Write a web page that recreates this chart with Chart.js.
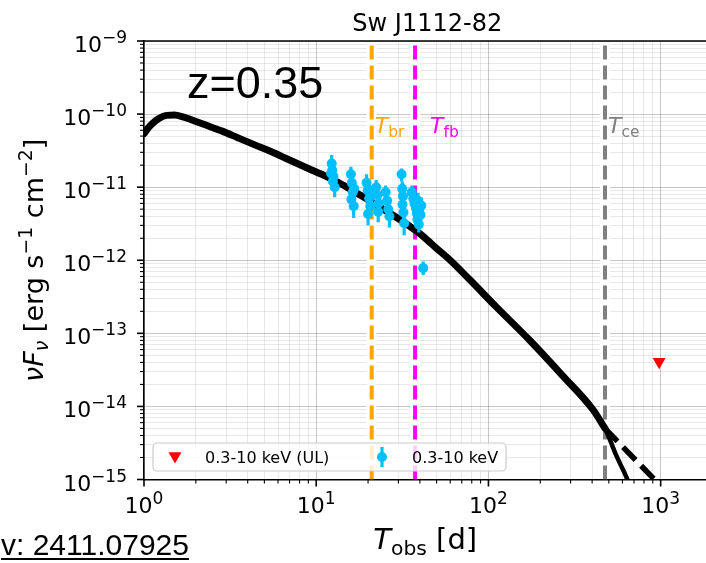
<!DOCTYPE html>
<html>
<head>
<meta charset="utf-8">
<script src="https://cdn.jsdelivr.net/npm/chart.js@4.4.1/dist/chart.umd.min.js"></script>
<style>
  html, body { margin: 0; padding: 0; background: #fff; overflow: hidden; }
  #wrap { position: relative; width: 720px; height: 563px; }
</style>
</head>
<body>
<div id="wrap"><canvas id="sed" width="720" height="563"></canvas></div>
<script>
// model light curve (thick part up to T_ce, then the cut-off tail and the power-law extension)
const modelT    = [1.0, 1.06, 1.13, 1.22, 1.35, 1.5, 1.7, 1.85, 2.2, 2.87, 3.5, 4.5, 5.5, 7.0, 9.0, 11.5, 14.3, 18, 22.4, 29, 35, 42, 50, 60, 78, 111, 173, 271, 405, 475];
const modelFlux = [5.4e-11, 6.5e-11, 7.6e-11, 8.7e-11, 9.6e-11, 9.7e-11, 9.1e-11, 8.5e-11, 7.3e-11, 5.8e-11, 4.75e-11, 3.7e-11, 3.05e-11, 2.35e-11, 1.8e-11, 1.39e-11, 1.07e-11, 7.8e-12, 5.7e-12, 3.9e-12, 2.9e-12, 2.1e-12, 1.45e-12, 1.0e-12, 5.4e-13, 2.3e-13, 8.1e-14, 2.6e-14, 9.0e-15, 5.0e-15];
const tailT     = [475, 510, 545, 585, 625, 665];
const tailFlux  = [5.0e-15, 3.4e-15, 2.3e-15, 1.6e-15, 1.15e-15, 8.2e-16];
const dashT     = [475, 920];
const dashFlux  = [5.0e-15, 1.0e-15];

// XRT 0.3-10 keV detections
const obsT    = [12.2, 12.3, 12.4, 12.5, 12.6, 12.8, 15.9, 16.0, 16.1, 16.3, 16.5, 16.6, 19.6, 19.9, 20.0, 20.3, 20.6, 20.9, 22.3, 22.7, 22.9, 23.0, 25.3, 25.8, 26.2, 26.6, 31.3, 31.6, 31.7, 31.9, 32.1, 32.4, 35.9, 36.6, 37.2, 37.9, 38.4, 38.7, 39.0, 39.4, 39.6, 40.3, 40.8, 41.8];
const obsFlux = [1.55e-11, 2.1e-11, 1.7e-11, 1.2e-11, 1.4e-11, 1.0e-11, 1.5e-11, 6.8e-12, 1.15e-11, 8.5e-12, 5.5e-12, 9.5e-12, 1.15e-11, 9e-12, 4.3e-12, 7e-12, 5.5e-12, 8e-12, 1.0e-11, 7.8e-12, 4.6e-12, 6.0e-12, 8.5e-12, 6.5e-12, 5.0e-12, 4.0e-12, 1.5e-11, 9.5e-12, 5.8e-12, 7.5e-12, 4.5e-12, 3.2e-12, 8.5e-12, 7.0e-12, 6.0e-12, 5.2e-12, 4.4e-12, 3.6e-12, 6.5e-12, 3.1e-12, 5.0e-12, 4.2e-12, 5.6e-12, 7.8e-13];
const obsLo   = [1.2e-11, 1.7e-11, 1.35e-11, 9e-12, 1.1e-11, 7.3e-12, 1.2e-11, 5e-12, 8.8e-12, 6.5e-12, 3.8e-12, 7e-12, 9e-12, 7e-12, 3.0e-12, 5.2e-12, 4e-12, 6e-12, 7.8e-12, 6e-12, 3.3e-12, 4.6e-12, 6.6e-12, 5e-12, 3.8e-12, 2.8e-12, 1.2e-11, 7.3e-12, 4.3e-12, 5.7e-12, 3.3e-12, 2.2e-12, 6.6e-12, 5.4e-12, 4.6e-12, 4e-12, 3.3e-12, 2.7e-12, 5e-12, 2.4e-12, 3.8e-12, 3.2e-12, 4.3e-12, 6.3e-13];
const obsHi   = [2e-11, 2.75e-11, 2.2e-11, 1.55e-11, 1.8e-11, 1.3e-11, 1.9e-11, 9e-12, 1.5e-11, 1.1e-11, 7.5e-12, 1.25e-11, 1.5e-11, 1.15e-11, 5.8e-12, 9.2e-12, 7.2e-12, 1.05e-11, 1.25e-11, 1.0e-11, 6e-12, 7.8e-12, 1.05e-11, 8.5e-12, 6.5e-12, 5.4e-12, 1.8e-11, 1.2e-11, 7.6e-12, 9.8e-12, 6e-12, 4.3e-12, 1.05e-11, 9e-12, 7.8e-12, 6.8e-12, 5.8e-12, 4.7e-12, 8.4e-12, 4.1e-12, 6.6e-12, 5.5e-12, 7.2e-12, 9.6e-13];

// upper limit
const ulT    = [980];
const ulFlux = [4.1e-14];

// characteristic times
const markerT      = [21, 37.5, 475];
const markerSub    = ['br', 'fb', 'ce'];
const markerColors = ['#FFA500', '#FF00FF', '#808080'];

const xTickExp = [0, 1, 2, 3];
const yTickExp = [-15, -14, -13, -12, -11, -10, -9];

const OBS_BLUE = '#00BFFF';
const FONT = '"DejaVu Sans"';

function logTicks(min, max) {
  const out = [];
  for (let d = Math.floor(Math.log10(min)); d <= Math.ceil(Math.log10(max)); d++) {
    for (let m = 1; m <= 9; m++) {
      const v = m * Math.pow(10, d);
      if (v >= min * 0.999 && v <= max * 1.001) out.push({ value: v });
    }
  }
  return out;
}
function isMajor(v) {
  const l = Math.log10(v);
  return Math.abs(l - Math.round(l)) < 1e-6;
}
function pts(xs, ys) { return xs.map((x, i) => ({ x: x, y: ys[i] })); }

function drawPow(ctx, exp, x, y, align) {
  const base = '10';
  const sup = exp < 0 ? '\u2212' + (-exp) : String(exp);
  ctx.font = '22px ' + FONT;
  const wb = ctx.measureText(base).width;
  ctx.font = '17px ' + FONT;
  const ws = ctx.measureText(sup).width;
  const w = wb + ws;
  const x0 = align === 'right' ? x - w : x - w / 2;
  ctx.textAlign = 'left';
  ctx.textBaseline = 'alphabetic';
  ctx.font = '22px ' + FONT;
  ctx.fillText(base, x0, y);
  ctx.font = '17px ' + FONT;
  ctx.fillText(sup, x0 + wb, y - 9);
}

// draws a run of [text, font, dy] pieces starting at x, returns total width
function drawRun(ctx, parts, x, y, measureOnly) {
  let cx = x;
  for (const p of parts) {
    ctx.font = p[1];
    if (!measureOnly) ctx.fillText(p[0], cx, y + p[2]);
    cx += ctx.measureText(p[0]).width;
  }
  return cx - x;
}

let OBS_INDEX = -1;

const sedPlugin = {
  id: 'sedPlugin',
  beforeDatasetsDraw(chart) {
    const { ctx, chartArea: a, scales: { x } } = chart;
    ctx.save();
    ctx.strokeStyle = '#ffffff';
    ctx.lineWidth = 10;
    markerT.forEach(t => {
      const px = x.getPixelForValue(t);
      ctx.beginPath();
      ctx.moveTo(px, a.top + 1);
      ctx.lineTo(px, a.bottom - 1.5);
      ctx.stroke();
    });
    ctx.restore();
  },
  beforeDatasetDraw(chart, args) {
    if (args.index !== OBS_INDEX) return;
    const { ctx, chartArea: a, scales: { x, y } } = chart;
    ctx.save();
    ctx.beginPath();
    ctx.rect(a.left, a.top, a.right - a.left, a.bottom - a.top);
    ctx.clip();
    ctx.strokeStyle = OBS_BLUE;
    ctx.lineWidth = 3.2;
    obsT.forEach((t, i) => {
      const px = x.getPixelForValue(t);
      ctx.beginPath();
      ctx.moveTo(px, y.getPixelForValue(obsLo[i]));
      ctx.lineTo(px, y.getPixelForValue(obsHi[i]));
      ctx.stroke();
    });
    ctx.restore();
  },
  afterDraw(chart) {
    const { ctx, chartArea: a, scales: { x, y } } = chart;
    ctx.save();
    ctx.fillStyle = '#000';
    ctx.strokeStyle = '#000';

    // top / right frame
    ctx.lineWidth = 1.6;
    ctx.beginPath();
    ctx.moveTo(a.left, a.top);
    ctx.lineTo(a.right, a.top);
    ctx.lineTo(a.right, a.bottom);
    ctx.stroke();

    // tick marks
    x.ticks.forEach(t => {
      const px = x.getPixelForValue(t.value);
      const maj = isMajor(t.value);
      ctx.lineWidth = maj ? 1.6 : 1.1;
      ctx.beginPath();
      ctx.moveTo(px, a.bottom);
      ctx.lineTo(px, a.bottom + (maj ? 7 : 4));
      ctx.stroke();
    });
    y.ticks.forEach(t => {
      const py = y.getPixelForValue(t.value);
      const maj = isMajor(t.value);
      ctx.lineWidth = maj ? 1.6 : 1.1;
      ctx.beginPath();
      ctx.moveTo(a.left, py);
      ctx.lineTo(a.left - (maj ? 7 : 4), py);
      ctx.stroke();
    });

    // tick labels
    xTickExp.forEach(e => drawPow(ctx, e, x.getPixelForValue(Math.pow(10, e)), 513, 'center'));
    yTickExp.forEach(e => drawPow(ctx, e, 127, y.getPixelForValue(Math.pow(10, e)) + 11, 'right'));

    // axis titles
    const big = 29;
    const xParts = [['T', 'italic ' + big + 'px ' + FONT, 0], ['obs', (big * 0.7) + 'px ' + FONT, 6], [' [d]', big + 'px ' + FONT, 0]];
    const xw = drawRun(ctx, xParts, 0, 0, true);
    drawRun(ctx, xParts, (a.left + a.right) / 2 - xw / 2 - 3, 549, false);

    const ys = 27, yss = ys * 0.7;
    const yParts = [
      ['\u03bd', 'italic ' + ys + 'px ' + FONT, 0],
      ['F', 'italic ' + ys + 'px ' + FONT, 0],
      ['\u03bd', 'italic ' + yss + 'px ' + FONT, 5],
      [' [erg s', ys + 'px ' + FONT, 0],
      ['\u22121', yss + 'px ' + FONT, -11],
      [' cm', ys + 'px ' + FONT, 0],
      ['\u22122', yss + 'px ' + FONT, -11],
      [']', ys + 'px ' + FONT, 0]
    ];
    const yw = drawRun(ctx, yParts, 0, 0, true);
    ctx.save();
    ctx.translate(43, (a.top + a.bottom) / 2);
    ctx.rotate(-Math.PI / 2);
    drawRun(ctx, yParts, -yw / 2, 0, false);
    ctx.restore();

    // title
    ctx.font = '24px ' + FONT;
    ctx.textAlign = 'center';
    ctx.fillText('Sw J1112-82', (a.left + a.right) / 2 - 1, 31);
    ctx.textAlign = 'left';

    // redshift
    ctx.font = '45px "Liberation Sans"';
    ctx.fillText('z=0.35', 187, 98);

    // T labels next to the markers
    const offs = [3, 15, 3];
    markerT.forEach((t, i) => {
      ctx.fillStyle = markerColors[i];
      const px = x.getPixelForValue(t) + offs[i];
      drawRun(ctx, [['T', 'italic 22px ' + FONT, 0], [markerSub[i], '15.5px ' + FONT, 4]], px, 133, false);
    });

    // legend
    const lx = 153, ly = 443, lw = 353, lh = 28, r = 4;
    ctx.fillStyle = 'rgba(255,255,255,0.8)';
    ctx.strokeStyle = '#cccccc';
    ctx.lineWidth = 1.2;
    ctx.beginPath();
    ctx.roundRect(lx, ly, lw, lh, r);
    ctx.fill();
    ctx.stroke();
    const cy = ly + lh / 2;
    // UL symbol
    ctx.fillStyle = 'red';
    const tr = 7.5, tx = 175, ty = cy - 1;
    ctx.beginPath();
    ctx.moveTo(tx, ty + tr);
    ctx.lineTo(tx - tr * 0.866, ty - tr / 2);
    ctx.lineTo(tx + tr * 0.866, ty - tr / 2);
    ctx.closePath();
    ctx.fill();
    // detection symbol
    ctx.strokeStyle = OBS_BLUE;
    ctx.fillStyle = OBS_BLUE;
    ctx.lineWidth = 3.2;
    ctx.beginPath();
    ctx.moveTo(382, cy - 10);
    ctx.lineTo(382, cy + 10);
    ctx.stroke();
    ctx.beginPath();
    ctx.arc(382, cy, 5, 0, Math.PI * 2);
    ctx.fill();
    ctx.fillStyle = '#000';
    ctx.font = '16px ' + FONT;
    ctx.fillText(chart.data.datasets[OBS_INDEX + 1].label, 205, cy + 6);
    ctx.fillText(chart.data.datasets[OBS_INDEX].label, 412, cy + 6);

    // arXiv reference (cropped in the original)
    ctx.font = '30px "Liberation Sans"';
    const ref = 'v: 2411.07925';
    ctx.fillText(ref, 1, 555);
    ctx.fillRect(1, 558, ctx.measureText(ref).width, 2);

    ctx.restore();
  }
};

const datasets = [];
markerT.forEach((t, i) => {
  datasets.push({
    label: 'T' + markerSub[i],
    data: [{ x: t, y: 1e-15 }, { x: t, y: 1e-9 }],
    showLine: true,
    borderColor: markerColors[i],
    borderWidth: 4,
    borderDash: [14, 6],
    pointRadius: 0,
    tension: 0,
    order: 5
  });
});
datasets.push({
  label: 'model',
  data: pts(modelT, modelFlux),
  showLine: true,
  borderColor: '#000',
  borderWidth: 7,
  pointRadius: 0,
  cubicInterpolationMode: 'monotone',
  borderJoinStyle: 'round',
  borderCapStyle: 'round',
  order: 3
});
datasets.push({
  label: 'model tail',
  data: pts(tailT, tailFlux),
  showLine: true,
  borderColor: '#000',
  borderWidth: 4.5,
  pointRadius: 0,
  cubicInterpolationMode: 'monotone',
  order: 3
});
datasets.push({
  label: 'model extension',
  data: pts(dashT, dashFlux),
  showLine: true,
  borderColor: '#000',
  borderWidth: 5.5,
  borderDash: [18, 8],
  pointRadius: 0,
  tension: 0,
  order: 3
});
OBS_INDEX = datasets.length;
datasets.push({
  label: '0.3-10 keV',
  data: pts(obsT, obsFlux),
  showLine: false,
  pointRadius: 5,
  pointBackgroundColor: OBS_BLUE,
  pointBorderWidth: 0,
  order: 1
});
datasets.push({
  label: '0.3-10 keV (UL)',
  data: pts(ulT, ulFlux),
  showLine: false,
  pointStyle: 'triangle',
  rotation: 180,
  pointRadius: 7.5,
  pointBackgroundColor: 'red',
  pointBorderWidth: 0,
  order: 0
});

const gridColor = ctx => (ctx.tick && isMajor(ctx.tick.value)) ? 'rgba(0,0,0,0.22)' : 'rgba(0,0,0,0.09)';

new Chart(document.getElementById('sed').getContext('2d'), {
  type: 'scatter',
  data: { datasets: datasets },
  options: {
    responsive: false,
    animation: false,
    events: [],
    layout: { padding: { top: 41, right: 7.2, left: 0, bottom: 0 } },
    plugins: { legend: { display: false }, tooltip: { enabled: false }, title: { display: false } },
    scales: {
      x: {
        type: 'logarithmic',
        min: 1,
        max: 2000,
        afterBuildTicks: s => { s.ticks = logTicks(1, 2000); },
        afterFit: s => { s.height = 83.5; },
        ticks: { display: false },
        grid: { drawTicks: false, color: gridColor, lineWidth: 1 },
        border: { display: true, color: '#000', width: 1.6 }
      },
      y: {
        type: 'logarithmic',
        min: 1e-15,
        max: 1e-9,
        afterBuildTicks: s => { s.ticks = logTicks(1e-15, 1e-9); },
        afterFit: s => { s.width = 144; },
        ticks: { display: false },
        grid: { drawTicks: false, color: gridColor, lineWidth: 1 },
        border: { display: true, color: '#000', width: 1.6 }
      }
    }
  },
  plugins: [sedPlugin]
});
</script>
</body>
</html>
